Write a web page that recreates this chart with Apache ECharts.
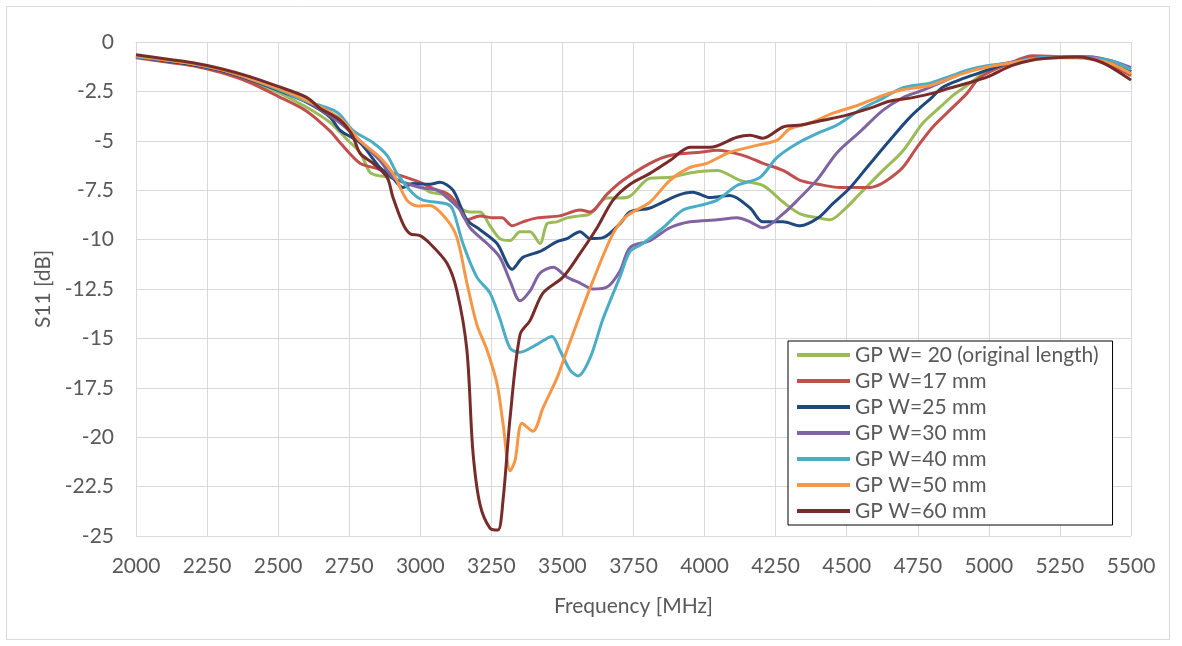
<!DOCTYPE html>
<html>
<head>
<meta charset="utf-8">
<script src="https://cdn.jsdelivr.net/npm/echarts@6/dist/echarts.min.js"></script>
<style>
html,body{margin:0;padding:0;background:#fff;}
#chart{width:1182px;height:646px;}
</style>
</head>
<body>
<div id="chart"></div>
<script>
// Series names (legend order)
const seriesNames = ["GP W= 20 (original length)", "GP W=17 mm", "GP W=25 mm", "GP W=30 mm", "GP W=40 mm", "GP W=50 mm", "GP W=60 mm"];
const seriesColors = ["#9BBB59", "#C0504D", "#1F497D", "#8064A2", "#4BACC6", "#F79646", "#772C2A"];

// [frequency MHz, S11 dB]
const w20 = [[2000,-0.75],[2100,-0.95],[2200,-1.15],[2300,-1.5],[2400,-1.95],[2500,-2.55],[2600,-3.3],[2682,-4.06],[2740,-4.9],[2788,-5.6],[2823,-6.6],[2848,-6.75],[2893,-6.85],[2953,-7.16],[3000,-7.3],[3034,-7.6],[3094,-7.77],[3140,-8.4],[3175,-8.6],[3210,-8.6],[3245,-9.3],[3280,-9.95],[3316,-10.05],[3351,-9.6],[3386,-9.6],[3421,-10.2],[3446,-9.2],[3481,-9.1],[3516,-8.9],[3562,-8.8],[3597,-8.7],[3657,-7.9],[3702,-7.9],[3738,-7.8],[3808,-6.9],[3878,-6.85],[3959,-6.6],[4044,-6.5],[4125,-7.0],[4205,-7.26],[4276,-8.1],[4336,-8.7],[4400,-8.9],[4441,-9.0],[4490,-8.5],[4547,-7.67],[4620,-6.6],[4698,-5.5],[4768,-4.1],[4828,-3.3],[4874,-2.7],[4923,-2.2],[4980,-1.6],[5050,-1.2],[5150,-0.85],[5250,-0.75],[5350,-0.75],[5420,-0.95],[5500,-1.5]];
const w17 = [[2000,-0.8],[2100,-1.0],[2200,-1.2],[2300,-1.55],[2400,-2.05],[2500,-2.75],[2600,-3.5],[2682,-4.5],[2718,-5.1],[2788,-6.14],[2848,-6.4],[2929,-6.75],[2999,-7.1],[3050,-7.45],[3094,-7.67],[3129,-8.17],[3164,-9.0],[3210,-8.8],[3256,-8.9],[3287,-8.9],[3323,-9.3],[3361,-9.1],[3411,-8.9],[3491,-8.8],[3562,-8.5],[3597,-8.6],[3657,-7.7],[3713,-7.0],[3808,-6.14],[3878,-5.74],[3984,-5.58],[4044,-5.48],[4135,-5.74],[4205,-6.14],[4276,-6.5],[4336,-7.0],[4400,-7.2],[4476,-7.36],[4582,-7.36],[4687,-6.5],[4747,-5.33],[4803,-4.3],[4863,-3.45],[4923,-2.6],[4969,-1.78],[5074,-1.07],[5155,-0.7],[5275,-0.76],[5366,-0.8],[5436,-1.2],[5500,-1.7]];
const w25 = [[2000,-0.75],[2100,-0.95],[2200,-1.15],[2300,-1.45],[2400,-1.9],[2500,-2.45],[2600,-3.05],[2682,-3.8],[2718,-4.47],[2788,-5.1],[2858,-6.35],[2904,-6.9],[2939,-7.36],[2974,-7.16],[3034,-7.2],[3069,-7.1],[3115,-7.5],[3164,-9.0],[3210,-9.5],[3270,-10.2],[3323,-11.5],[3361,-10.9],[3421,-10.6],[3481,-10.1],[3516,-9.95],[3562,-9.6],[3597,-9.95],[3643,-9.9],[3702,-9.2],[3738,-8.6],[3808,-8.4],[3903,-7.77],[3959,-7.6],[4019,-7.87],[4089,-7.77],[4160,-8.4],[4205,-9.1],[4276,-9.1],[4336,-9.3],[4400,-8.9],[4452,-8.17],[4510,-7.4],[4571,-6.35],[4650,-5.0],[4723,-3.8],[4800,-2.8],[4839,-2.28],[4900,-1.9],[4960,-1.6],[5050,-1.15],[5150,-0.85],[5250,-0.75],[5350,-0.8],[5430,-1.0],[5500,-1.5]];
const w30 = [[2000,-0.75],[2100,-0.9],[2200,-1.1],[2300,-1.4],[2400,-1.85],[2500,-2.4],[2600,-3.0],[2718,-4.1],[2788,-5.0],[2858,-6.0],[2904,-6.85],[2953,-7.16],[2999,-7.36],[3059,-7.5],[3094,-7.87],[3140,-8.5],[3175,-9.4],[3235,-10.2],[3280,-10.9],[3316,-12.1],[3351,-13.1],[3386,-12.6],[3421,-11.7],[3467,-11.4],[3516,-11.9],[3562,-12.2],[3607,-12.5],[3657,-12.4],[3702,-11.6],[3738,-10.4],[3808,-10.05],[3878,-9.4],[3949,-9.1],[4044,-9.0],[4114,-8.9],[4160,-9.1],[4205,-9.4],[4276,-8.7],[4336,-7.87],[4400,-6.9],[4466,-5.6],[4550,-4.5],[4628,-3.45],[4700,-2.8],[4768,-2.44],[4839,-2.0],[4900,-1.6],[4960,-1.35],[5050,-1.1],[5150,-0.85],[5250,-0.75],[5350,-0.75],[5430,-0.95],[5500,-1.3]];
const w40 = [[2000,-0.75],[2100,-0.9],[2200,-1.1],[2300,-1.4],[2400,-1.85],[2500,-2.4],[2600,-3.0],[2707,-3.55],[2763,-4.47],[2834,-5.1],[2883,-5.74],[2918,-6.65],[2974,-7.67],[3009,-8.0],[3094,-8.2],[3115,-8.5],[3150,-10.2],[3199,-11.9],[3245,-12.7],[3280,-14.0],[3316,-15.5],[3351,-15.7],[3411,-15.3],[3463,-14.9],[3491,-15.6],[3527,-16.6],[3555,-16.9],[3597,-16.0],[3643,-14.0],[3702,-11.9],[3738,-10.6],[3783,-10.2],[3854,-9.4],[3924,-8.5],[3984,-8.27],[4044,-8.0],[4114,-7.26],[4195,-6.85],[4255,-5.84],[4330,-5.1],[4400,-4.6],[4466,-4.2],[4550,-3.4],[4628,-2.84],[4700,-2.3],[4793,-2.08],[4870,-1.7],[4930,-1.4],[4993,-1.2],[5080,-1.05],[5150,-0.85],[5250,-0.75],[5350,-0.8],[5430,-0.95],[5500,-1.4]];
const w50 = [[2000,-0.7],[2100,-0.9],[2200,-1.1],[2300,-1.4],[2400,-1.85],[2500,-2.35],[2600,-2.95],[2717,-3.86],[2788,-5.0],[2858,-5.84],[2904,-6.65],[2953,-8.0],[2990,-8.3],[3034,-8.27],[3094,-9.0],[3129,-9.9],[3164,-12.2],[3199,-14.3],[3235,-15.6],[3270,-17.3],[3291,-19.3],[3316,-21.7],[3333,-21.2],[3358,-19.3],[3396,-19.7],[3432,-18.5],[3481,-17.0],[3516,-15.6],[3562,-13.8],[3607,-12.1],[3678,-9.7],[3727,-8.8],[3808,-8.1],[3878,-7.0],[3949,-6.35],[4008,-6.14],[4089,-5.58],[4184,-5.23],[4255,-4.97],[4300,-4.4],[4371,-4.1],[4452,-3.6],[4540,-3.2],[4628,-2.7],[4700,-2.4],[4793,-2.2],[4870,-1.8],[4930,-1.5],[5000,-1.25],[5080,-1.05],[5150,-0.9],[5250,-0.8],[5350,-0.85],[5430,-1.1],[5500,-1.6]];
const w60 = [[2000,-0.65],[2100,-0.85],[2200,-1.05],[2300,-1.35],[2400,-1.75],[2500,-2.25],[2600,-2.8],[2647,-3.35],[2718,-3.96],[2760,-4.7],[2788,-5.63],[2834,-6.14],[2883,-6.85],[2904,-7.87],[2939,-9.2],[2964,-9.7],[2999,-9.8],[3034,-10.2],[3094,-11.2],[3129,-12.6],[3164,-15.6],[3185,-20.7],[3210,-23.4],[3245,-24.6],[3273,-24.7],[3291,-23.2],[3316,-19.0],[3351,-14.8],[3386,-14.1],[3432,-12.7],[3502,-11.9],[3562,-10.7],[3622,-9.4],[3678,-8.0],[3738,-7.2],[3808,-6.65],[3878,-6.0],[3949,-5.33],[4019,-5.33],[4114,-4.82],[4160,-4.72],[4205,-4.87],[4276,-4.3],[4340,-4.2],[4417,-3.96],[4500,-3.7],[4582,-3.35],[4650,-3.0],[4723,-2.84],[4800,-2.6],[4863,-2.33],[4920,-2.1],[4993,-1.78],[5080,-1.2],[5155,-0.91],[5230,-0.8],[5310,-0.76],[5400,-1.05],[5500,-1.93]];

const seriesData = [w20, w17, w25, w30, w40, w50, w60];

const FONT = 'Lato, "Open Sans", sans-serif';
const chart = echarts.init(document.getElementById('chart'), null, {renderer:'canvas'});
chart.setOption({
  animation: false,
  backgroundColor: '#ffffff',
  graphic: [{
    type: 'rect', silent: true,
    shape: {x: 6.5, y: 6.5, width: 1163, height: 633},
    style: {fill: null, stroke: '#d9d9d9', lineWidth: 1}
  }],
  grid: {left: 136, right: 51, top: 42, bottom: 110, containLabel: false},
  legend: {
    orient: 'vertical', left: 788, top: 341,
    backgroundColor: '#ffffff', borderColor: '#000000', borderWidth: 1,
    padding: [3, 14, 3, 9],
    itemWidth: 53, itemHeight: 4, itemGap: 4, icon: 'rect',
    textStyle: {color: '#595959', fontSize: 21, fontFamily: FONT, lineHeight: 22},
    data: seriesNames
  },
  xAxis: {
    type: 'value', min: 2000, max: 5500, interval: 250,
    name: 'Frequency [MHz]', nameLocation: 'middle', nameGap: 60,
    nameTextStyle: {color: '#595959', fontSize: 21, fontFamily: FONT},
    axisLine: {show: true, lineStyle: {color: '#d9d9d9', width: 1}},
    axisTick: {show: false},
    splitLine: {show: true, lineStyle: {color: '#d9d9d9', width: 1}},
    axisLabel: {color: '#595959', fontSize: 21, fontFamily: FONT, margin: 20,
      formatter: v => String(v)}
  },
  yAxis: {
    type: 'value', min: -25, max: 0, interval: 2.5,
    name: 'S11 [dB]', nameLocation: 'middle', nameGap: 73,
    nameTextStyle: {color: '#595959', fontSize: 21, fontFamily: FONT},
    axisLine: {show: true, lineStyle: {color: '#d9d9d9', width: 1}},
    axisTick: {show: false},
    splitLine: {show: true, lineStyle: {color: '#d9d9d9', width: 1}},
    axisLabel: {color: '#595959', fontSize: 21, fontFamily: FONT, margin: 22,
      formatter: v => String(v)}
  },
  series: seriesNames.map((n, i) => ({
    name: n, type: 'line', data: seriesData[i],
    showSymbol: false, smooth: 0.3,
    lineStyle: {color: seriesColors[i], width: 3},
    itemStyle: {color: seriesColors[i]},
    z: 2 + i
  }))
});
</script>
</body>
</html>
